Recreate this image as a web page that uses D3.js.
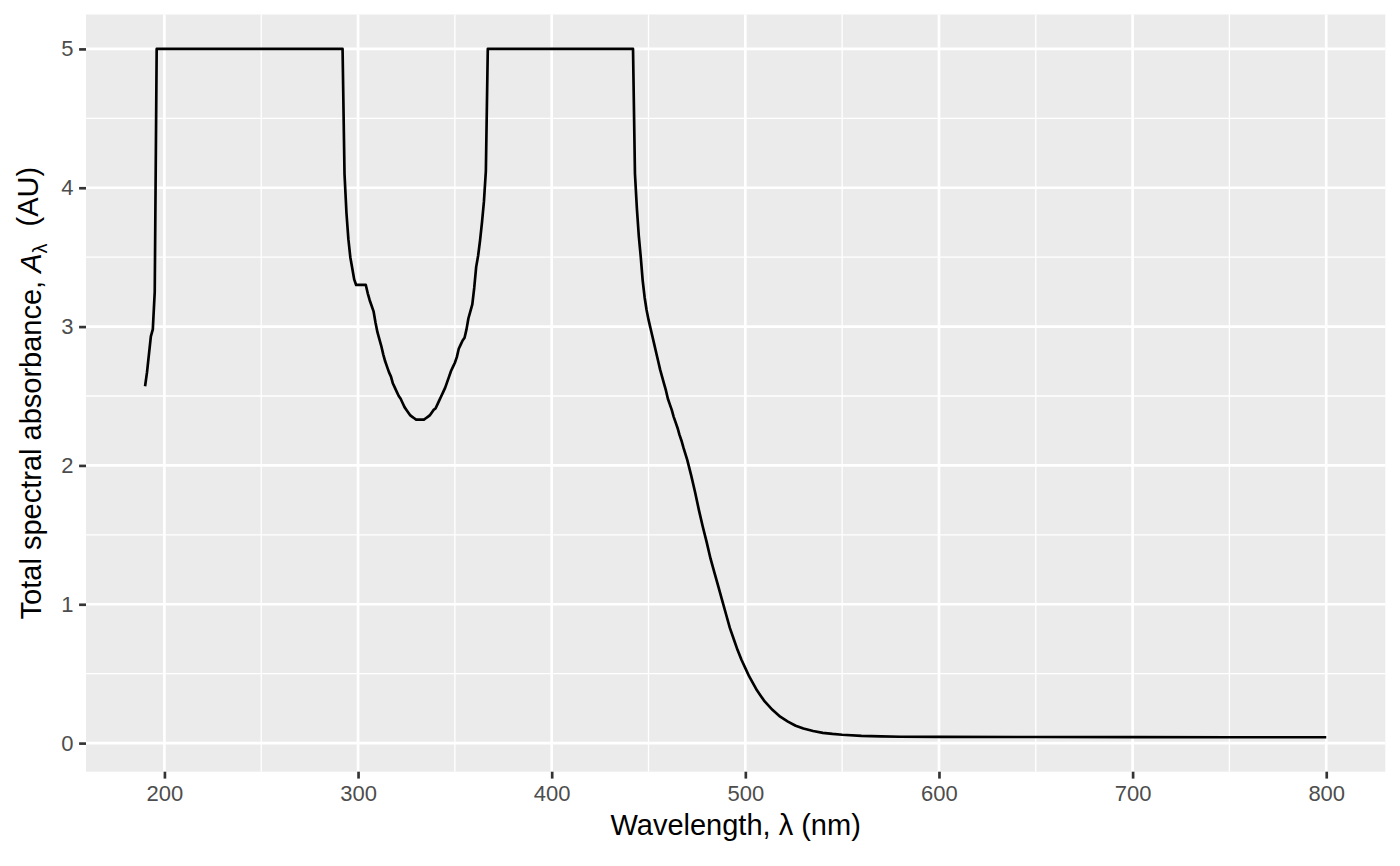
<!DOCTYPE html>
<html>
<head>
<meta charset="utf-8">
<script src="https://cdn.jsdelivr.net/npm/d3@7"></script>
<style>
  body { margin: 0; background: #fff; }
  svg text { font-family: "Liberation Sans", Arial, sans-serif; }
</style>
</head>
<body>
<div id="chart"></div>
<script>
// spectrum (nm, AU)
var wavelengths = [190, 191, 192, 193, 194, 195, 196, 292, 293, 294, 295, 296, 297, 298, 299, 304,
    305, 306, 307, 308, 309, 310, 311, 312, 313, 314, 315, 316, 317, 318, 319, 320,
    321, 322, 323, 324, 325, 326, 327, 328, 329, 330, 331, 332, 333, 334, 335, 336,
    337, 338, 339, 340, 341, 342, 343, 344, 345, 346, 347, 348, 349, 350, 351, 352,
    353, 354, 355, 356, 357, 358, 359, 360, 361, 362, 363, 364, 365, 366, 367, 442,
    443, 444, 445, 446, 447, 448, 449, 450, 451, 452, 453, 454, 455, 456, 457, 458,
    459, 460, 461, 462, 463, 464, 465, 466, 467, 468, 470, 472, 474, 476, 478, 480,
    482, 484, 486, 488, 490, 492, 494, 496, 498, 500, 502, 504, 506, 508, 510, 514,
    518, 522, 526, 530, 535, 540, 545, 550, 560, 570, 580, 600, 650, 700, 750, 800]
var absorbance = [2.57, 2.67, 2.80, 2.93, 2.98, 3.25, 5.0, 5.0, 4.10, 3.82, 3.63, 3.50, 3.42, 3.34, 3.30, 3.30,
    3.24, 3.19, 3.15, 3.11, 3.03, 2.96, 2.91, 2.86, 2.80, 2.75, 2.71, 2.67, 2.64, 2.59, 2.56, 2.53,
    2.50, 2.48, 2.45, 2.42, 2.40, 2.38, 2.36, 2.35, 2.34, 2.33, 2.33, 2.33, 2.33, 2.33, 2.34, 2.35,
    2.36, 2.38, 2.40, 2.41, 2.44, 2.47, 2.50, 2.53, 2.56, 2.60, 2.64, 2.68, 2.71, 2.74, 2.78, 2.84,
    2.87, 2.90, 2.92, 2.98, 3.06, 3.11, 3.16, 3.28, 3.43, 3.51, 3.62, 3.75, 3.90, 4.12, 5.0, 5.0,
    4.10, 3.85, 3.65, 3.50, 3.33, 3.21, 3.12, 3.05, 2.99, 2.93, 2.87, 2.81, 2.75, 2.69, 2.64, 2.59,
    2.54, 2.48, 2.44, 2.40, 2.35, 2.31, 2.27, 2.22, 2.18, 2.13, 2.04, 1.93, 1.81, 1.68, 1.56, 1.45,
    1.33, 1.23, 1.13, 1.03, 0.93, 0.83, 0.75, 0.67, 0.60, 0.54, 0.48, 0.43, 0.38, 0.34, 0.30, 0.24,
    0.19, 0.155, 0.125, 0.105, 0.087, 0.074, 0.066, 0.060, 0.052, 0.048, 0.046, 0.045, 0.044, 0.043, 0.042, 0.042]

var xTicks = [200, 300, 400, 500, 600, 700, 800]
var xMinor = [250, 350, 450, 550, 650, 750]
var yTicks = [0, 1, 2, 3, 4, 5]
var yMinor = [0.5, 1.5, 2.5, 3.5, 4.5]

var margin = { top: 14.5, right: 14.7, bottom: 94.3, left: 86 }
var width = 1400 - margin.left - margin.right
var height = 866 - margin.top - margin.bottom

var points = wavelengths.map(function(w, i) { return { wl: w, a: absorbance[i] } })

// ggplot style 5% expansion on both axes
var xr = d3.extent(wavelengths), xpad = (xr[1] - xr[0]) * 0.05
var yr = d3.extent(absorbance), ypad = (yr[1] - yr[0]) * 0.05

var x = d3.scaleLinear().domain([xr[0] - xpad, xr[1] + xpad]).range([0, width])
var y = d3.scaleLinear().domain([yr[0] - ypad, yr[1] + ypad]).range([height, 0])

var svg = d3.select("#chart")
    .append("svg")
    .attr("width", 1400)
    .attr("height", 866)

var canvas = svg.append("g")
    .attr("transform", "translate(" + margin.left + "," + margin.top + ")")

canvas.append("rect")
    .attr("width", width)
    .attr("height", height)
    .attr("fill", "#EBEBEB")

// minor grid
canvas.selectAll(".xminor").data(xMinor).enter().append("line")
    .attr("x1", d => x(d)).attr("x2", d => x(d))
    .attr("y1", 0).attr("y2", height)
    .attr("stroke", "white").attr("stroke-width", 1.33)
canvas.selectAll(".yminor").data(yMinor).enter().append("line")
    .attr("y1", d => y(d)).attr("y2", d => y(d))
    .attr("x1", 0).attr("x2", width)
    .attr("stroke", "white").attr("stroke-width", 1.33)

// major grid
canvas.selectAll(".xmajor").data(xTicks).enter().append("line")
    .attr("x1", d => x(d)).attr("x2", d => x(d))
    .attr("y1", 0).attr("y2", height)
    .attr("stroke", "white").attr("stroke-width", 2.67)
canvas.selectAll(".ymajor").data(yTicks).enter().append("line")
    .attr("y1", d => y(d)).attr("y2", d => y(d))
    .attr("x1", 0).attr("x2", width)
    .attr("stroke", "white").attr("stroke-width", 2.67)

var line = d3.line()
    .x(d => x(d.wl))
    .y(d => y(d.a))

canvas.append("path")
    .datum(points)
    .attr("d", line)
    .attr("fill", "none")
    .attr("stroke", "black")
    .attr("stroke-width", 2.67)
    .attr("stroke-linejoin", "round")

// axes
var xAxis = canvas.append("g")
    .attr("transform", "translate(0," + height + ")")
    .call(d3.axisBottom(x).tickValues(xTicks).tickSize(6.9).tickPadding(6.5).tickFormat(d3.format("d")))
var yAxis = canvas.append("g")
    .call(d3.axisLeft(y).tickValues(yTicks).tickSize(6.9).tickPadding(5.5).tickFormat(d3.format("d")))

;[xAxis, yAxis].forEach(function(g) {
    g.select(".domain").remove()
    g.selectAll(".tick line").attr("stroke", "#333333").attr("stroke-width", 2.67)
    g.selectAll(".tick text")
        .attr("fill", "#4D4D4D")
        .style("font-size", "22px")
        .style("font-family", "'Liberation Sans', Arial, sans-serif")
})

// axis titles
svg.append("text")
    .attr("x", margin.left + width / 2)
    .attr("y", 835)
    .attr("text-anchor", "middle")
    .style("font-size", "29px")
    .text("Wavelength, λ (nm)")

var ytitle = svg.append("text")
    .attr("transform", "translate(41," + (margin.top + height / 2) + ") rotate(-90)")
    .attr("text-anchor", "middle")
    .style("font-size", "29px")
ytitle.append("tspan").text("Total spectral absorbance, ")
ytitle.append("tspan").style("font-style", "italic").text("A")
ytitle.append("tspan").attr("dy", "0.3em").style("font-size", "20px").text("λ")
ytitle.append("tspan").attr("dy", "-0.3em").attr("dx", "9").text(" (AU)")
</script>
</body>
</html>
